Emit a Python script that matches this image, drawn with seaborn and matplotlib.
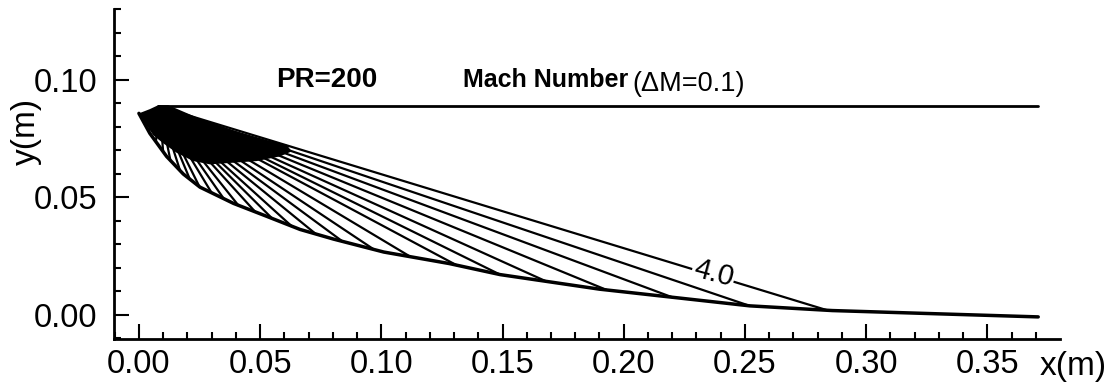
#!/usr/bin/env python3
import matplotlib
matplotlib.use('Agg')
import matplotlib.pyplot as plt
import seaborn as sns
import pandas as pd
import numpy as np

# Plug (lower) wall profile
wall_x = [0.0, 0.0045, 0.0114, 0.0183, 0.0252, 0.039, 0.0527, 0.0665, 0.0803,
          0.101, 0.128, 0.149, 0.190, 0.252, 0.286, 0.33, 0.371]
wall_y = [0.0856, 0.0771, 0.0673, 0.0598, 0.0542, 0.0473, 0.0418, 0.0362, 0.0321,
          0.0266, 0.0217, 0.017, 0.0108, 0.0037, 0.0017, 0.0003, -0.001]

# Outer jet boundary (flat line from the cowl lip)
jet_x = [0.0080, 0.371]
jet_y = [0.0888, 0.0888]

# Cowl lip, where the Mach lines fan out from
lip_x = 0.0085
lip_y = 0.0885

# Where each Mach contour meets the plug wall (last one is M=4.0)
contour_wall_x = [0.004, 0.007, 0.010, 0.013, 0.017, 0.021, 0.025, 0.030, 0.035,
                  0.041, 0.048, 0.055, 0.063, 0.073, 0.084, 0.097, 0.112, 0.131,
                  0.149, 0.168, 0.193, 0.220, 0.252, 0.284]

# Dark region near the lip where the contours pile up
blob_x = [0.000, 0.0045, 0.0080, 0.0121, 0.0252, 0.0389, 0.0527, 0.061, 0.063,
          0.0582, 0.0486, 0.0389, 0.0293, 0.0224, 0.0156, 0.010, 0.0059, 0.0018]
blob_y = [0.0856, 0.0874, 0.0891, 0.0891, 0.0833, 0.0784, 0.0743, 0.0722, 0.0694,
          0.0673, 0.0653, 0.0646, 0.0639, 0.0653, 0.0688, 0.0729, 0.0763, 0.0826]

x_ticks = [0.00, 0.05, 0.10, 0.15, 0.20, 0.25, 0.30, 0.35]
y_ticks = [0.00, 0.05, 0.10]


def build_contours() -> pd.DataFrame:
    # Each contour runs from the lip to its wall intercept
    end_y = np.interp(contour_wall_x, wall_x, wall_y)
    rows = []
    for i, (xe, ye) in enumerate(zip(contour_wall_x, end_y)):
        rows.append({'level': i, 'x': lip_x, 'y': lip_y})
        rows.append({'level': i, 'x': xe, 'y': ye})
    return pd.DataFrame(rows)


def main():
    sns.set_style('ticks')
    plt.rcParams['font.family'] = ['Liberation Sans', 'DejaVu Sans']
    plt.rcParams['text.color'] = 'black'
    plt.rcParams['axes.labelcolor'] = 'black'
    plt.rcParams['xtick.color'] = 'black'
    plt.rcParams['ytick.color'] = 'black'

    fig = plt.figure(figsize=(11.15, 3.85), dpi=100)
    ax = fig.add_axes([0.1022, 0.1195, 0.8485, 0.8571])

    contours_df = build_contours()
    sns.lineplot(data=contours_df, x='x', y='y', units='level', estimator=None,
                 sort=False, color='black', lw=1.6, legend=False, ax=ax)

    # Dense region near the lip
    ax.fill(blob_x, blob_y, color='black', lw=0)

    # Walls
    sns.lineplot(x=wall_x, y=wall_y, sort=False, color='black', lw=2.5, ax=ax)
    sns.lineplot(x=jet_x, y=jet_y, sort=False, color='black', lw=2.0, ax=ax)

    # Contour label with a gap in the line
    ax.text(0.237, 0.0175, '4.0', fontsize=21, rotation=-15, ha='center',
            va='center', color='black',
            bbox=dict(facecolor='white', edgecolor='none', pad=1))

    # Titles inside the plot
    ax.text(0.0776, 0.1, 'PR=200', fontsize=20, fontweight='bold',
            ha='center', va='center', color='black')
    ax.text(0.1335, 0.1, 'Mach Number', fontsize=18, fontweight='bold',
            ha='left', va='center', color='black')
    ax.text(0.2035, 0.0983, '(\u0394M=0.1)', fontsize=19.5, ha='left',
            va='center', color='black')

    ax.set_xlim(-0.0103, 0.380)
    ax.set_ylim(-0.0104, 0.1266)
    ax.set_xticks(x_ticks)
    ax.set_yticks(y_ticks)
    ax.set_xticklabels([f'{t:.2f}' for t in x_ticks])
    ax.set_yticklabels([f'{t:.2f}' for t in y_ticks])
    ax.set_xticks(np.round(np.arange(-0.01, 0.38, 0.01), 2), minor=True)
    ax.set_yticks(np.round(np.arange(-0.01, 0.13, 0.01), 2), minor=True)

    ax.tick_params(which='both', direction='in', width=1.5, colors='black')
    ax.tick_params(which='major', length=11, labelsize=23.5)
    ax.tick_params(axis='x', which='major', pad=7)
    ax.tick_params(axis='y', which='major', pad=12)
    ax.tick_params(which='minor', length=5)

    sns.despine(ax=ax)
    for side in ['left', 'bottom']:
        ax.spines[side].set_linewidth(2.0)
        ax.spines[side].set_color('black')

    ax.set_xlabel('')
    ax.set_ylabel('')
    fig.text(26 / 1115, 1 - 131 / 385, 'y(m)', fontsize=24, rotation=90,
             ha='center', va='center')
    fig.text(1073 / 1115, 1 - 367 / 385, 'x(m)', fontsize=24,
             ha='center', va='center')

    fig.savefig('out.png', dpi=100)


if __name__ == '__main__':
    main()
